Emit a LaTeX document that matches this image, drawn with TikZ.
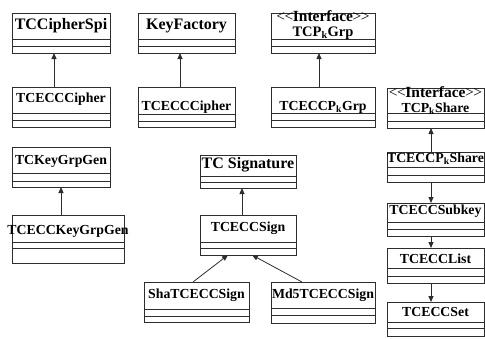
\documentclass[tikz,border=0pt]{standalone}
\usepackage{fontspec}
\setmainfont{Liberation Serif}
\usetikzlibrary{arrows.meta}
\definecolor{ink}{RGB}{45,45,45}
\tikzset{
  cls/.style={draw=ink, line width=0.8pt, rectangle, inner sep=0pt, outer sep=0pt, anchor=north west},
  sep/.style={draw=ink, line width=0.8pt},
  arr/.style={draw=ink, line width=0.8pt, -{Triangle[length=6pt,width=5pt]}},
  big/.style={font=\fontsize{16}{18}\selectfont\bfseries, inner sep=0pt},
  txt/.style={font=\fontsize{13.8}{16}\selectfont\bfseries, inner sep=0pt},
  ifc/.style={font=\fontsize{15.5}{17}\selectfont, inner sep=0pt, text height=8pt, text depth=0pt},
}
\newcommand{\ifctext}{\textless\kern-0.5pt\textless\kern-0.5pt\textbf{Interface}\kern-0.5pt\textgreater\kern-0.5pt\textgreater}
% \umlcls{name}{x1}{y1}{w}{h}{l1}{l2}
\newcommand{\umlcls}[7]{%
  \node[cls, minimum width=#4pt, minimum height=#5pt] (#1) at (#2,#3) {};
  \draw[sep] (#1.west |- 0,#6) -- (#1.east |- 0,#6);
  \draw[sep] (#1.west |- 0,#7) -- (#1.east |- 0,#7);
}
\begin{document}
\begin{tikzpicture}[x=1pt,y=-1pt]
\useasboundingbox (0,0) rectangle (485,338);
\fill[white] (0,0) rectangle (485,338);
% classes
\umlcls{spi}{12}{13}{98}{40}{39}{46}
\umlcls{kf}{138}{13}{97}{40}{39}{46}
\umlcls{grp}{271}{13}{104}{40}{39}{46}
\umlcls{eccA}{12}{87}{98}{40}{113}{120}
\umlcls{eccB}{138}{87}{97}{40}{114}{121}
\umlcls{eccgrp}{271}{87}{104}{40}{113}{120}
\umlcls{share}{387}{88}{97}{40}{113}{121}
\umlcls{eccshare}{387}{152}{97}{30}{167}{175}
\umlcls{subkey}{387}{203}{97}{33}{222}{229}
\umlcls{list}{387}{248}{97}{35}{268}{276}
\umlcls{set}{387}{302}{97}{34}{322}{328}
\umlcls{kgg}{12}{147}{98}{40}{173}{181}
\umlcls{ecckgg}{12}{215}{112}{48}{242}{248}
\umlcls{sig}{200}{155}{96}{33}{176}{182}
\umlcls{sign}{200}{215}{96}{40}{242}{248}
\umlcls{sha}{144}{282}{105}{40}{309}{316}
\umlcls{md5}{271}{282}{104}{41}{308}{315}
% labels
\node[big] (tspi) at (61,26) {TCCipherSpi};
\node[big] (tkf) at (186.5,26) {KeyFactory};
\node[ifc] (tgrpi) at (323,17) {\ifctext};
\node[txt, font=\fontsize{14.5}{16}\selectfont\bfseries] (tgrp) at (323,33) {TCP\textsubscript{k}Grp};
\node[txt] (teccA) at (61,99) {TCECCCipher};
\node[txt] (teccB) at (186.5,107) {TCECCCipher};
\node[txt] (teccgrp) at (323,107) {TCECCP\textsubscript{k}Grp};
\node[ifc] (tsharei) at (435.5,93) {\ifctext};
\node[txt] (tshare) at (435.5,108.5) {TCP\textsubscript{k}Share};
\node[txt] (teccshare) at (435.5,159) {TCECCP\textsubscript{k}Share};
\node[txt] (tsubkey) at (435.5,211) {TCECCSubkey};
\node[txt] (tlist) at (435.5,259) {TCECCList};
\node[txt] (tset) at (435.5,312) {TCECCSet};
\node[txt] (tkgg) at (61,161) {TCKeyGrpGen};
\node[txt] (tecckgg) at (68,231) {TCECCKeyGrpGen};
\node[big] (tsig) at (248,165) {TC Signature};
\node[txt] (tsign) at (248,228) {TCECCSign};
\node[txt] (tsha) at (196.5,295) {ShaTCECCSign};
\node[txt] (tmd5) at (323,295) {Md5TCECCSign};
% connectors
\draw[arr] (eccA.north -| 54,0) -- (spi.south -| 54,0);
\draw[arr] (eccB.north -| 180,0) -- (kf.south -| 180,0);
\draw[arr] (eccgrp.north -| 319,0) -- (grp.south -| 319,0);
\draw[arr] (eccshare.north -| 431,0) -- (share.south -| 431,0);
\draw[arr] (eccshare.south -| 431,0) -- (subkey.north -| 431,0);
\draw[arr] (subkey.south -| 431,0) -- (list.north -| 431,0);
\draw[arr] (list.south -| 431,0) -- (set.north -| 431,0);
\draw[arr] (ecckgg.north -| 61,0) -- (kgg.south -| 61,0);
\draw[arr] (sign.north -| 242,0) -- (sig.south -| 242,0);
\draw[arr] (sha.north -| 193,0) -- (sign.south -| 228,0);
\draw[arr] (md5.north -| 302,0) -- (sign.south -| 252,0);
\end{tikzpicture}
\end{document}
